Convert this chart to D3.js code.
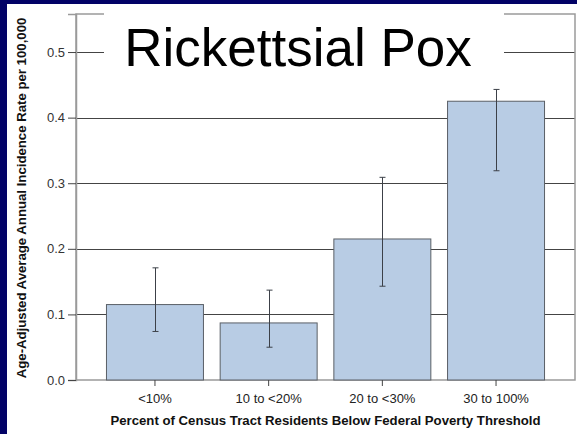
<!DOCTYPE html>
<html>
<head>
<meta charset="utf-8">
<script src="https://cdn.jsdelivr.net/npm/d3@7"></script>
<style>
  html, body { margin: 0; padding: 0; background: #ffffff; }
  svg { display: block; font-family: Arial, "Liberation Sans", sans-serif; }
</style>
</head>
<body>
<svg id="chart" width="577" height="434"></svg>
<script>
// Rickettsial pox incidence by census-tract poverty level
const categories = ["<10%", "10 to <20%", "20 to <30%", "30 to 100%"];
const rates      = [0.115, 0.087, 0.215, 0.425];
const ciLower    = [0.074, 0.050, 0.143, 0.319];
const ciUpper    = [0.171, 0.137, 0.309, 0.443];
const yTicks     = [0.0, 0.1, 0.2, 0.3, 0.4, 0.5];

const svg = d3.select("#chart");
const W = 577, H = 434;
const FONT = "Arial, 'Liberation Sans', sans-serif";

// slide background with navy edges
svg.append("rect").attr("width", W).attr("height", H).attr("fill", "#020266");
svg.append("rect").attr("x", 7).attr("y", 4).attr("width", W - 7).attr("height", H - 4).attr("fill", "#ffffff");

const plot = { left: 76, right: 575, top: 14, bottom: 380 };

const y = d3.scaleLinear().domain([0, 0.558]).range([plot.bottom, plot.top]);
const x = d3.scaleBand().domain(categories)
  .range([plot.left, plot.right])
  .paddingInner(0.147).paddingOuter(0.268);

// horizontal grid lines
const grid = svg.append("g")
  .attr("transform", `translate(${plot.left},0)`)
  .call(d3.axisLeft(y).tickValues(yTicks.filter(v => v > 0)).tickSize(-(plot.right - plot.left)).tickFormat(""));
grid.select(".domain").remove();
grid.selectAll(".tick line").attr("stroke", "#444").attr("shape-rendering", "crispEdges");

// plot frame
svg.append("rect")
  .attr("x", plot.left).attr("y", plot.top)
  .attr("width", plot.right - plot.left).attr("height", plot.bottom - plot.top)
  .attr("fill", "none").attr("stroke", "#9a9a9a").attr("stroke-width", 1.5);

// bars
const rows = categories.map((c, i) => ({ c, v: rates[i], lo: ciLower[i], hi: ciUpper[i] }));
svg.append("g").selectAll("rect").data(rows).join("rect")
  .attr("x", d => x(d.c)).attr("y", d => y(d.v))
  .attr("width", x.bandwidth()).attr("height", d => y(0) - y(d.v))
  .attr("fill", "#b8cce4").attr("stroke", "#5a5f66").attr("stroke-width", 1);

// confidence intervals
const eb = svg.append("g").attr("stroke", "#3c4048").attr("stroke-width", 1);
rows.forEach(d => {
  const cx = Math.round(x(d.c) + x.bandwidth() / 2) + 0.5;
  eb.append("line").attr("x1", cx).attr("x2", cx).attr("y1", y(d.hi)).attr("y2", y(d.lo));
  [d.hi, d.lo].forEach(v => {
    eb.append("line").attr("x1", cx - 3).attr("x2", cx + 3).attr("y1", y(v)).attr("y2", y(v));
  });
});

// y axis
const yAxis = svg.append("g")
  .attr("transform", `translate(${plot.left},0)`)
  .call(d3.axisLeft(y).tickValues(yTicks).tickSize(8).tickPadding(3).tickFormat(d3.format(".1f")));
yAxis.select(".domain").attr("stroke", "#9a9a9a").attr("stroke-width", 1.5);
yAxis.selectAll(".tick line").attr("stroke", "#444");
yAxis.selectAll(".tick text").attr("fill", "#333").attr("font-size", 13).attr("font-family", FONT);

// x axis
const xAxis = svg.append("g")
  .attr("transform", `translate(0,${plot.bottom})`)
  .call(d3.axisBottom(x).tickSize(6).tickPadding(8));
xAxis.select(".domain").remove();
xAxis.selectAll(".tick line").attr("stroke", "#444");
xAxis.selectAll(".tick text").attr("fill", "#222").attr("font-size", 13).attr("font-family", FONT);

// axis titles
svg.append("text")
  .attr("transform", `translate(26,198) rotate(-90)`)
  .attr("text-anchor", "middle").attr("font-weight", "bold").attr("font-size", 13.2)
  .attr("font-family", FONT).attr("fill", "#111")
  .text("Age-Adjusted Average Annual Incidence Rate per 100,000");

svg.append("text")
  .attr("x", 325.5).attr("y", 425)
  .attr("text-anchor", "middle").attr("font-weight", "bold").attr("font-size", 13.2)
  .attr("font-family", FONT).attr("fill", "#111")
  .text("Percent of Census Tract Residents Below Federal Poverty Threshold");

// title on a white panel over the top of the frame
svg.append("rect").attr("x", 104).attr("y", 9).attr("width", 400).attr("height", 70).attr("fill", "#ffffff");
svg.append("text")
  .attr("x", 298).attr("y", 66)
  .attr("text-anchor", "middle").attr("font-size", 53).attr("font-family", FONT).attr("fill", "#000")
  .text("Rickettsial Pox");
</script>
</body>
</html>
